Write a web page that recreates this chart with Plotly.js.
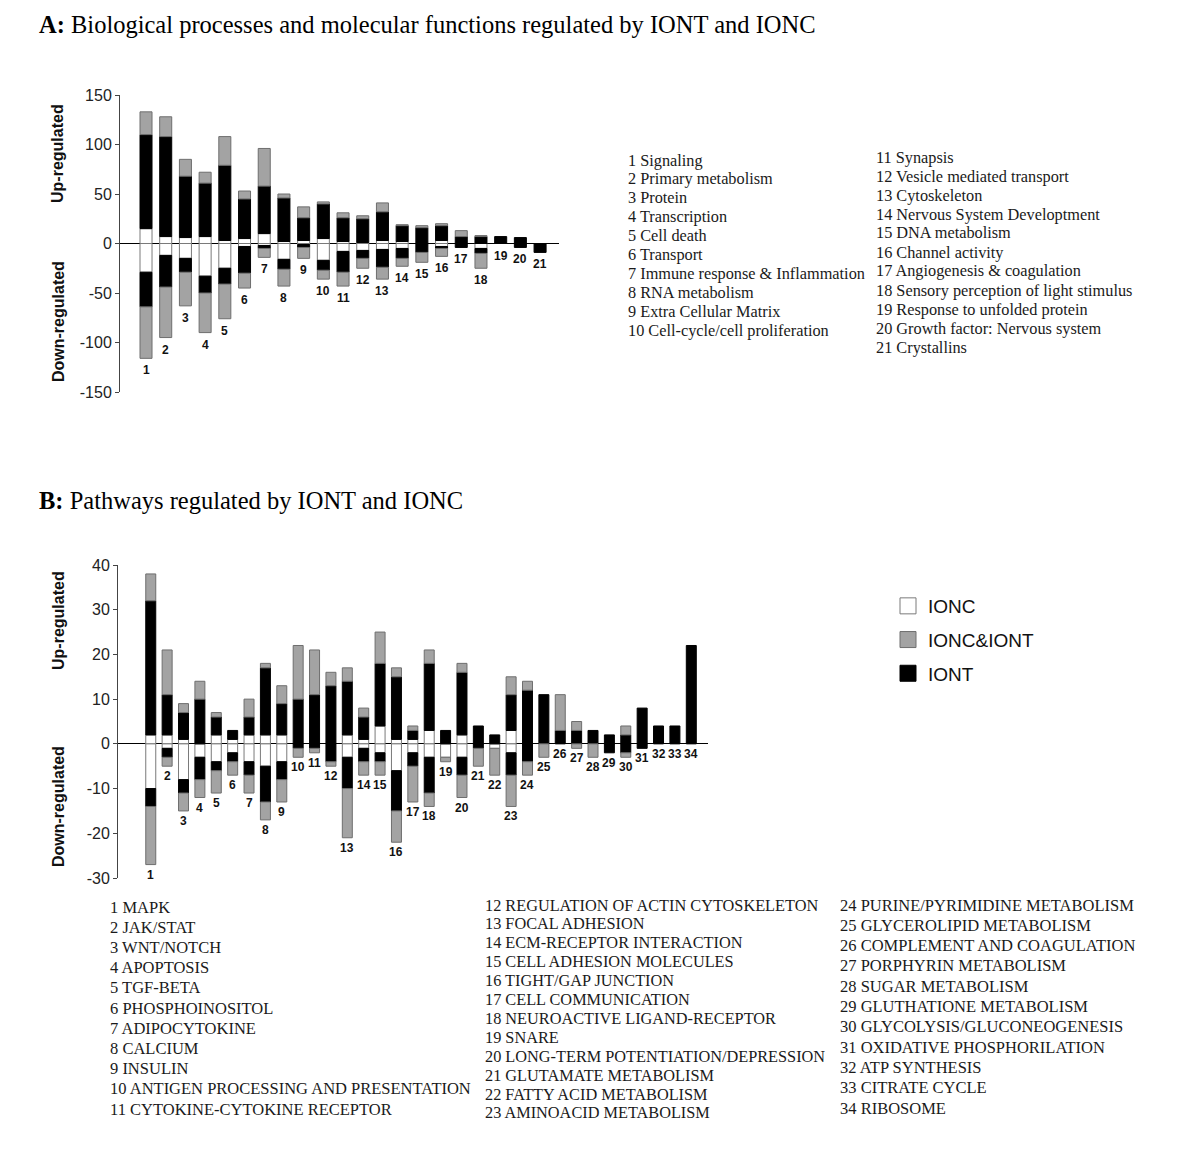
<!DOCTYPE html>
<html>
<head>
<meta charset="utf-8">
<script src="https://cdn.plot.ly/plotly-3.0.1.min.js"></script>
<style>html,body{margin:0;padding:0;background:#fff;}#chart{width:1200px;height:1165px;}</style>
</head>
<body>
<div id="chart"></div>
<script>
// ---------- Panel A data ----------
const A_names = ["Signaling","Primary metabolism","Protein","Transcription","Cell death","Transport",
  "Immune response & Inflammation","RNA metabolism","Extra Cellular Matrix","Cell-cycle/cell proliferation",
  "Synapsis","Vesicle mediated transport","Cytoskeleton","Nervous System Developtment","DNA metabolism",
  "Channel activity","Angiogenesis & coagulation","Sensory perception of light stimulus",
  "Response to unfolded protein","Growth factor: Nervous system","Crystallins"];
const A_ionc_up   = [15,7,6,7,3,5,10,2,3,5,2,1,3,2,0,3,0,0,0,0,0];
const A_iont_up   = [95,101,62,54,76,40,48,44,23,35,24,24,29,16,16,15,7,7,7,6,0];
const A_both_up   = [23,20,17,11,29,8,38,4,11,2,5,3,9,1,2,2,6,1,0,0,0];
const A_ionc_down = [29,12,15,33,25,3,2,16,1,17,8,7,6,5,0,3,0,5,0,0,0];
const A_iont_down = [35,32,14,17,16,27,3,10,3,10,21,8,18,10,9,2,4,5,0,4,9];
const A_both_down = [52,51,34,40,35,15,9,17,11,9,14,10,12,8,10,8,0,15,0,0,0];
const A_yticks = [-150,-100,-50,0,50,100,150];

// ---------- Panel B data ----------
const B_names = ["MAPK","JAK/STAT","WNT/NOTCH","APOPTOSIS","TGF-BETA","PHOSPHOINOSITOL","ADIPOCYTOKINE",
  "CALCIUM","INSULIN","ANTIGEN PROCESSING AND PRESENTATION","CYTOKINE-CYTOKINE RECEPTOR",
  "REGULATION OF ACTIN CYTOSKELETON","FOCAL ADHESION","ECM-RECEPTOR INTERACTION","CELL ADHESION MOLECULES",
  "TIGHT/GAP JUNCTION","CELL COMMUNICATION","NEUROACTIVE LIGAND-RECEPTOR","SNARE",
  "LONG-TERM POTENTIATION/DEPRESSION","GLUTAMATE METABOLISM","FATTY ACID METABOLISM","AMINOACID METABOLISM",
  "PURINE/PYRIMIDINE METABOLISM","GLYCEROLIPID METABOLISM","COMPLEMENT AND COAGULATION","PORPHYRIN METABOLISM",
  "SUGAR METABOLISM","GLUTHATIONE METABOLISM","GLYCOLYSIS/GLUCONEOGENESIS","OXIDATIVE PHOSPHORILATION",
  "ATP SYNTHESIS","CITRATE CYCLE","RIBOSOME"];
const B_ionc_up   = [2,2,1,0,2,1,2,2,2,0,0,0,2,1,4,1,1,3,0,2,0,0,3,0,0,0,0,0,0,0,0,0,0,0];
const B_iont_up   = [30,9,6,10,4,2,4,15,7,10,11,13,12,5,14,14,2,15,3,14,4,2,8,12,11,3,3,3,2,2,8,4,4,22];
const B_both_up   = [6,10,2,4,1,0,4,1,4,12,10,3,3,2,7,2,1,3,0,2,0,0,4,2,0,8,2,0,0,2,0,0,0,0];
const B_ionc_down = [10,1,8,3,4,2,4,5,4,0,0,0,3,1,2,6,2,3,3,3,0,1,2,0,0,0,0,0,0,0,0,0,0,0];
const B_iont_down = [4,2,3,5,2,2,3,8,4,1,1,4,7,3,2,9,3,8,0,4,1,0,5,4,0,0,0,0,2,2,1,0,0,0];
const B_both_down = [13,2,4,4,5,3,4,4,5,2,1,1,11,3,3,7,8,3,1,5,4,6,7,3,3,0,1,3,0,1,0,0,0,0];
const B_yticks = [-30,-20,-10,0,10,20,30,40];

const seriesNames = ["IONC","IONC&IONT","IONT"];

// ---------- styling ----------
const W = 1200, H = 1165;
const px = v => v / W;
const py = v => 1 - v / H;
const SERIF = "Liberation Serif, Times New Roman, serif";
const SANS = "Liberation Sans, Arial, sans-serif";
const fill = {IONC: "#ffffff", "IONC&IONT": "#a3a3a3", IONT: "#000000"};
const edge = {IONC: "#7a7a7a", "IONC&IONT": "#6e6e6e", IONT: "#000000"};

function nz(arr, sign) { return arr.map(v => v === 0 ? null : sign * v); }

function barTrace(xs, vals, sign, name, xa, ya) {
  return {
    type: "bar", x: xs, y: nz(vals, sign), name: name, xaxis: xa, yaxis: ya,
    showlegend: false, hoverinfo: "skip",
    marker: {color: fill[name], line: {color: edge[name], width: 1}}
  };
}

const A_x = A_names.map((_, i) => i + 1);
const B_x = B_names.map((_, i) => i + 1);

const traces = [
  barTrace(A_x, A_ionc_up, 1, "IONC", "x", "y"),
  barTrace(A_x, A_ionc_down, -1, "IONC", "x", "y"),
  barTrace(A_x, A_iont_up, 1, "IONT", "x", "y"),
  barTrace(A_x, A_iont_down, -1, "IONT", "x", "y"),
  barTrace(A_x, A_both_up, 1, "IONC&IONT", "x", "y"),
  barTrace(A_x, A_both_down, -1, "IONC&IONT", "x", "y"),
  barTrace(B_x, B_ionc_up, 1, "IONC", "x2", "y2"),
  barTrace(B_x, B_ionc_down, -1, "IONC", "x2", "y2"),
  barTrace(B_x, B_iont_up, 1, "IONT", "x2", "y2"),
  barTrace(B_x, B_iont_down, -1, "IONT", "x2", "y2"),
  barTrace(B_x, B_both_up, 1, "IONC&IONT", "x2", "y2"),
  barTrace(B_x, B_both_down, -1, "IONC&IONT", "x2", "y2")
];
// legend entries
seriesNames.forEach((n, i) => {
  traces.push({
    type: "scatter", mode: "markers", x: [null], y: [null], name: n, xaxis: "x2", yaxis: "y2",
    legendgroup: "g" + i, showlegend: true, hoverinfo: "skip",
    marker: {symbol: "square", size: 16, color: fill[n], line: {color: edge[n], width: 1}}
  });
});

const ann = [];
// Titles
ann.push({xref: "paper", yref: "paper", x: px(37), y: py(25), xanchor: "left", yanchor: "middle", showarrow: false,
  text: "<b>A:</b> Biological processes and molecular functions regulated by IONT and IONC",
  font: {family: SERIF, size: 24.5, color: "#000"}});
ann.push({xref: "paper", yref: "paper", x: px(37), y: py(500), xanchor: "left", yanchor: "middle", showarrow: false,
  text: "<b>B:</b> Pathways regulated by IONT and IONC",
  font: {family: SERIF, size: 24.5, color: "#000"}});
// axis side titles
[[154, "Up-regulated"], [322, "Down-regulated"], [621, "Up-regulated"], [807, "Down-regulated"]].forEach(d => {
  ann.push({xref: "paper", yref: "paper", x: px(58), y: py(d[0]), xanchor: "center", yanchor: "middle",
    showarrow: false, textangle: -90, text: "<b>" + d[1] + "</b>", font: {family: SANS, size: 16, color: "#111"}});
});
// bar number labels
A_x.forEach((x, i) => {
  const bottom = -(A_ionc_down[i] + A_iont_down[i] + A_both_down[i]);
  ann.push({xref: "x", yref: "y", x: x, y: bottom, yanchor: "top", yshift: -3, showarrow: false,
    text: "<b>" + x + "</b>", font: {family: SANS, size: 12, color: "#111"}});
});
B_x.forEach((x, i) => {
  const bottom = -(B_ionc_down[i] + B_iont_down[i] + B_both_down[i]);
  ann.push({xref: "x2", yref: "y2", x: x, y: bottom, yanchor: "top", yshift: -1, showarrow: false,
    text: "<b>" + x + "</b>", font: {family: SANS, size: 12, color: "#111"}});
});
// category lists
function listCol(names, offset, count, x0, y0, dy, size) {
  for (let k = 0; k < count; k++) {
    ann.push({xref: "paper", yref: "paper", x: px(x0), y: py(y0 + k * dy), xanchor: "left", yanchor: "middle",
      showarrow: false, text: (offset + k + 1) + " " + names[offset + k],
      font: {family: SERIF, size: size, color: "#1a1a1a"}});
  }
}
listCol(A_names, 0, 10, 626, 160, 18.9, 16.3);
listCol(A_names, 10, 11, 874, 157, 19.0, 16.3);
listCol(B_names, 0, 11, 108, 907, 20.2, 16.5);
listCol(B_names, 11, 12, 483, 905, 18.9, 16.3);
listCol(B_names, 23, 11, 838, 905, 20.3, 16.5);

const axY = {
  showline: true, linecolor: "#444", linewidth: 1, ticks: "outside", ticklen: 4, tickcolor: "#444",
  showgrid: false, zeroline: true, zerolinecolor: "#000", zerolinewidth: 1.3,
  tickfont: {family: SANS, size: 16, color: "#222"}, fixedrange: true
};
const axX = {showline: false, showticklabels: false, ticks: "", showgrid: false, zeroline: false, fixedrange: true};

const layout = {
  width: W, height: H, margin: {l: 0, r: 0, t: 0, b: 0},
  paper_bgcolor: "#fff", plot_bgcolor: "rgba(0,0,0,0)",
  barmode: "relative", bargap: 0.39,
  xaxis: Object.assign({}, axX, {domain: [px(120), px(559)], range: [-0.32, 21.96], anchor: "y"}),
  yaxis: Object.assign({}, axY, {domain: [py(392), py(95)], range: [-150, 150], tickmode: "array",
    tickvals: A_yticks, ticktext: A_yticks.map(String), anchor: "x"}),
  xaxis2: Object.assign({}, axX, {domain: [px(118), px(708)], range: [-1.0, 35.02], anchor: "y2"}),
  yaxis2: Object.assign({}, axY, {domain: [py(878), py(565)], range: [-30, 40], tickmode: "array",
    tickvals: B_yticks, ticktext: B_yticks.map(String), anchor: "x2", zerolinewidth: 1}),
  showlegend: true,
  legend: {x: px(888), y: py(587), xanchor: "left", yanchor: "top", bgcolor: "rgba(0,0,0,0)",
    font: {family: SANS, size: 19, color: "#111"}, traceorder: "grouped", tracegroupgap: 6,
    itemclick: false, itemdoubleclick: false},
  annotations: ann
};

Plotly.newPlot("chart", traces, layout, {staticPlot: true, displayModeBar: false});
</script>
</body>
</html>
